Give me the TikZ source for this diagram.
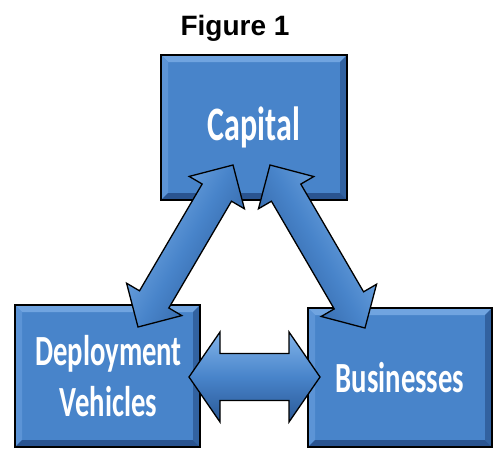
\documentclass[tikz,border=0pt]{standalone}
\usepackage{fontspec}
\setmainfont{Liberation Sans}
\newfontfamily\calfont{Carlito}
\usetikzlibrary{calc}
\definecolor{boxblue}{RGB}{72,132,202}
\definecolor{bevtop}{RGB}{112,164,224}
\definecolor{bevleft}{RGB}{92,148,214}
\definecolor{bevright}{RGB}{50,98,160}
\definecolor{bevbot}{RGB}{42,84,144}
\definecolor{arrlight}{RGB}{130,180,234}
\definecolor{arrdark}{RGB}{42,88,150}
\newcommand\dblarrow[7]{%
  \coordinate (#1ha) at ($(#2)!#6!(#3)$);
  \coordinate (#1hb) at ($(#3)!#6!(#2)$);
  \path[arrowbody,#7] (#2) -- ($(#1ha)!#5!90:(#3)$) -- ($(#1ha)!#4!90:(#3)$)
    -- ($(#1hb)!#4!-90:(#2)$) -- ($(#1hb)!#5!-90:(#2)$) -- (#3)
    -- ($(#1hb)!#5!90:(#2)$) -- ($(#1hb)!#4!90:(#2)$)
    -- ($(#1ha)!#4!-90:(#3)$) -- ($(#1ha)!#5!-90:(#3)$) -- cycle;
}
\begin{document}
\begin{tikzpicture}[x=1pt,y=-1pt,
  box/.style={draw=black, line width=1.3pt, fill=boxblue, inner sep=0pt, text=white,
    path picture={
      \coordinate (pnw) at (path picture bounding box.north west);
      \coordinate (pne) at (path picture bounding box.north east);
      \coordinate (psw) at (path picture bounding box.south west);
      \coordinate (pse) at (path picture bounding box.south east);
      \fill[bevtop] (pnw) -- (pne) -- ($(pne)+(-7,7)$) -- ($(pnw)+(7,7)$) -- cycle;
      \fill[bevleft] (pnw) -- (psw) -- ($(psw)+(7,-7)$) -- ($(pnw)+(7,7)$) -- cycle;
      \fill[bevright] (pne) -- (pse) -- ($(pse)+(-7,-7)$) -- ($(pne)+(-7,7)$) -- cycle;
      \fill[bevbot] (psw) -- (pse) -- ($(pse)+(-7,-7)$) -- ($(psw)+(7,-7)$) -- cycle;
    }},
  boxtext/.style={font=\calfont\bfseries\fontsize{43}{51}\selectfont},
  arrowbody/.style={draw=black, line width=1.3pt, line join=miter,
    top color=arrlight, bottom color=arrdark, middle color=boxblue}
]
\useasboundingbox (0,0) rectangle (494,450);

\node[anchor=base, font=\bfseries\fontsize{28}{32}\selectfont] (title) at (235,35) {Figure 1};

\node[box, minimum width=186pt, minimum height=145pt,
  font=\calfont\bfseries\fontsize{48}{56}\selectfont] (cap) at (254,127.5)
  {\scalebox{0.667}[1]{Capital}};
\node[box, minimum width=185pt, minimum height=142pt] (dep) at (107.5,376) {};
\node[boxtext, text=white, inner sep=0pt] (deptext) at (108.5,381)
  {\scalebox{0.667}[1]{\begin{tabular}{@{}c@{}}Deployment\\Vehicles\end{tabular}}};
\node[box, boxtext, minimum width=184pt, minimum height=139pt] (bus) at (400,377.5)
  {\scalebox{0.667}[1]{Businesses}};

\coordinate (la) at (233,165);
\coordinate (lb) at (138,327);
\coordinate (ra) at (270,165);
\coordinate (rb) at (365,328);
\coordinate (ha) at (189,377);
\coordinate (hb) at (320,377);

\dblarrow{l}{lb}{la}{17pt}{32pt}{32pt}{shading angle=60}
\dblarrow{r}{ra}{rb}{17pt}{32pt}{32pt}{shading angle=-60}
\dblarrow{h}{ha}{hb}{23.5pt}{45pt}{31pt}{shading angle=0}
\end{tikzpicture}
\end{document}
